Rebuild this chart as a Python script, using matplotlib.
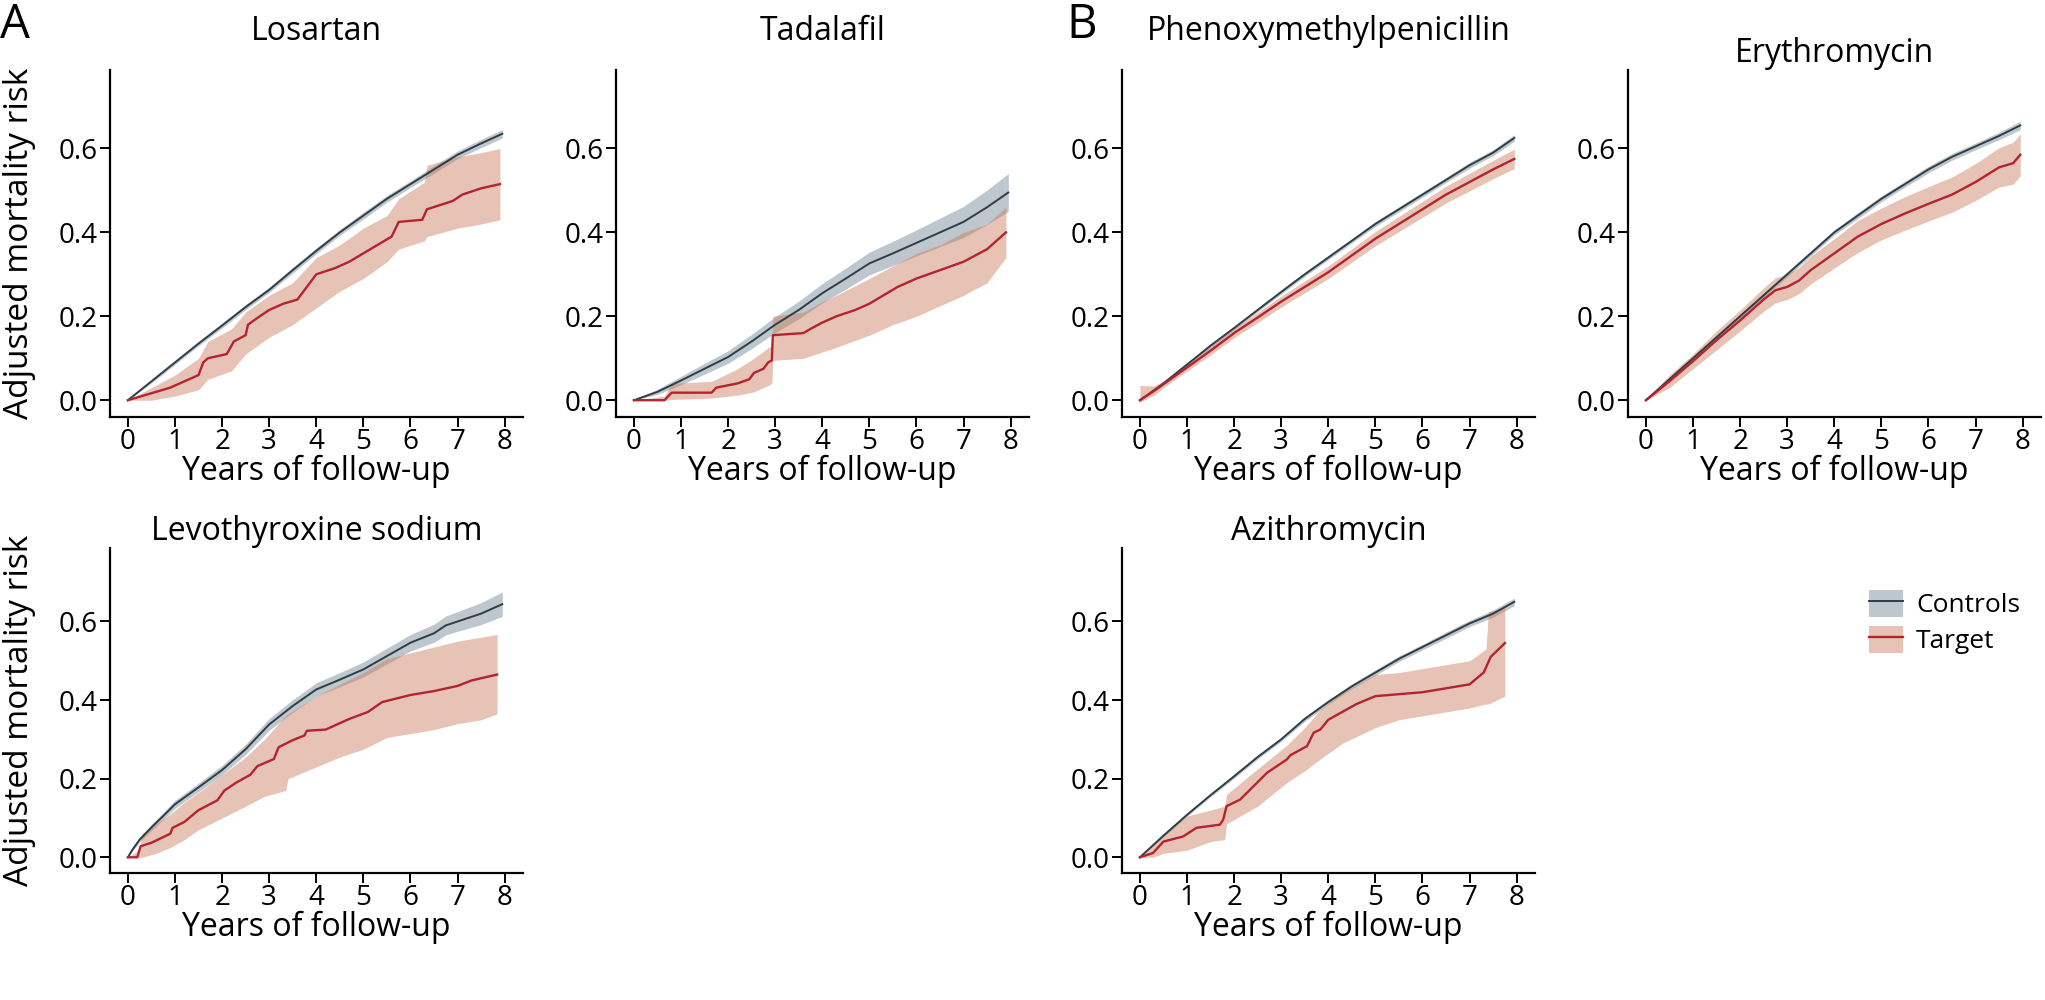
import numpy as np
import matplotlib
matplotlib.use("Agg")
import matplotlib.pyplot as plt
from matplotlib.patches import Patch
from matplotlib.lines import Line2D

plt.rcParams['font.family'] = ['Open Sans', 'DejaVu Sans']

# ---------------- data ----------------
titles = ["Losartan", "Tadalafil", "Phenoxymethylpenicillin", "Erythromycin",
          "Levothyroxine sodium", "Azithromycin"]

# controls: common time grid per panel
ctrl_t = [0, 0.5, 1, 1.5, 2, 2.5, 3, 3.5, 4, 4.5, 5, 5.5, 6, 6.5, 7, 7.5, 7.95]
losartan_ctrl = [0, 0.045, 0.09, 0.135, 0.178, 0.222, 0.263, 0.31, 0.356, 0.40, 0.44,
                 0.48, 0.515, 0.55, 0.585, 0.612, 0.635]
losartan_ctrl_hw = [0, 0.004, 0.005, 0.005, 0.006, 0.006, 0.006, 0.007, 0.007, 0.007,
                    0.008, 0.008, 0.008, 0.009, 0.009, 0.01, 0.01]
tadalafil_ctrl = [0, 0.02, 0.047, 0.075, 0.103, 0.14, 0.18, 0.215, 0.255, 0.29, 0.326,
                  0.35, 0.375, 0.40, 0.425, 0.46, 0.495]
tadalafil_ctrl_hw = [0, 0.006, 0.01, 0.013, 0.015, 0.017, 0.019, 0.021, 0.023, 0.025,
                     0.027, 0.029, 0.031, 0.034, 0.037, 0.041, 0.045]
phenoxy_ctrl = [0, 0.04, 0.085, 0.13, 0.172, 0.215, 0.258, 0.30, 0.34, 0.38, 0.42,
                0.455, 0.49, 0.525, 0.56, 0.59, 0.625]
phenoxy_ctrl_hw = [0, 0.003, 0.003, 0.004, 0.004, 0.004, 0.005, 0.005, 0.005, 0.005,
                   0.006, 0.006, 0.006, 0.006, 0.007, 0.007, 0.008]
ery_ctrl = [0, 0.05, 0.1, 0.15, 0.2, 0.25, 0.3, 0.35, 0.4, 0.44, 0.48, 0.515, 0.55,
            0.58, 0.605, 0.63, 0.655]
ery_ctrl_hw = [0, 0.003, 0.004, 0.005, 0.005, 0.005, 0.006, 0.006, 0.006, 0.007,
               0.007, 0.007, 0.008, 0.008, 0.008, 0.009, 0.01]
levo_ctrl_t = [0, 0.1, 0.25, 0.5, 0.75, 1, 1.5, 2, 2.5, 3, 3.5, 4, 4.5, 5, 5.5, 6,
               6.5, 6.75, 7, 7.5, 7.95]
levo_ctrl = [0, 0.02, 0.045, 0.076, 0.105, 0.135, 0.178, 0.222, 0.275, 0.338, 0.385,
             0.427, 0.452, 0.478, 0.512, 0.546, 0.57, 0.59, 0.6, 0.62, 0.644]
levo_ctrl_hw = [0, 0.004, 0.006, 0.008, 0.009, 0.01, 0.011, 0.012, 0.013, 0.015,
                0.016, 0.017, 0.018, 0.019, 0.02, 0.021, 0.023, 0.024, 0.025, 0.028, 0.031]
azi_ctrl = [0, 0.055, 0.108, 0.158, 0.206, 0.255, 0.3, 0.352, 0.395, 0.435, 0.47,
            0.505, 0.535, 0.565, 0.595, 0.62, 0.65]
azi_ctrl_hw = [0, 0.003, 0.004, 0.004, 0.005, 0.005, 0.005, 0.006, 0.006, 0.006,
               0.007, 0.007, 0.007, 0.008, 0.008, 0.009, 0.01]

# target curves
losartan_tgt_t = [0, 0.3, 0.6, 0.9, 1.2, 1.5, 1.6, 1.7, 2.1, 2.25, 2.5, 2.55, 2.8, 3.0,
                  3.3, 3.6, 3.8, 4.0, 4.4, 4.7, 5.0, 5.3, 5.6, 5.75, 6.25, 6.35, 6.9,
                  7.1, 7.5, 7.9]
losartan_tgt = [0, 0.01, 0.02, 0.03, 0.045, 0.06, 0.09, 0.1, 0.11, 0.14, 0.155, 0.18,
                0.2, 0.215, 0.23, 0.24, 0.27, 0.30, 0.315, 0.33, 0.35, 0.37, 0.39,
                0.425, 0.43, 0.455, 0.475, 0.49, 0.505, 0.515]
losartan_band_t = [0, 0.5, 1, 1.5, 1.7, 2.2, 2.5, 3, 3.5, 4, 4.5, 5, 5.5, 5.75, 6.3,
                   6.35, 7, 7.5, 7.9]
losartan_lo = [0, 0.0, 0.01, 0.025, 0.05, 0.07, 0.11, 0.15, 0.18, 0.22, 0.26, 0.29,
               0.33, 0.36, 0.38, 0.39, 0.41, 0.42, 0.43]
losartan_hi = [0, 0.03, 0.06, 0.1, 0.14, 0.17, 0.21, 0.25, 0.28, 0.34, 0.37, 0.41,
               0.44, 0.48, 0.52, 0.56, 0.58, 0.59, 0.60]

tadalafil_tgt_t = [0, 0.65, 0.8, 1.65, 1.75, 2.2, 2.45, 2.55, 2.75, 2.85, 2.93, 2.95,
                   3.6, 3.75, 4.0, 4.3, 4.7, 5.0, 5.3, 5.6, 6.0, 6.5, 7.0, 7.5, 7.9]
tadalafil_tgt = [0, 0, 0.018, 0.018, 0.03, 0.04, 0.05, 0.065, 0.075, 0.09, 0.095,
                 0.155, 0.16, 0.17, 0.185, 0.2, 0.215, 0.23, 0.25, 0.27, 0.29, 0.31,
                 0.33, 0.36, 0.40]
tadalafil_band_t = [0, 0.65, 0.8, 1.65, 2.2, 2.55, 2.85, 2.93, 2.95, 3.6, 4.0, 4.3, 5.0,
                    5.5, 6.0, 6.5, 7.0, 7.5, 7.9]
tadalafil_lo = [0, 0, 0.002, 0.005, 0.012, 0.02, 0.035, 0.04, 0.095, 0.1, 0.115, 0.126,
                0.155, 0.18, 0.2, 0.225, 0.25, 0.28, 0.34]
tadalafil_hi = [0, 0.01, 0.04, 0.045, 0.075, 0.1, 0.125, 0.13, 0.2, 0.21, 0.235, 0.25,
                0.29, 0.32, 0.35, 0.37, 0.40, 0.42, 0.46]

phenoxy_tgt_t = [0, 0.3, 0.5, 1, 1.5, 2, 2.5, 3, 3.5, 4, 4.5, 5, 5.5, 6, 6.5, 7, 7.5, 7.95]
phenoxy_tgt = [0, 0.022, 0.038, 0.078, 0.118, 0.16, 0.197, 0.235, 0.27, 0.305, 0.345,
               0.385, 0.42, 0.455, 0.49, 0.52, 0.55, 0.575]
phenoxy_lo = [-0.005, 0.012, 0.03, 0.069, 0.108, 0.149, 0.185, 0.222, 0.256, 0.29,
              0.329, 0.368, 0.402, 0.436, 0.47, 0.499, 0.528, 0.552]
phenoxy_hi = [0.035, 0.034, 0.046, 0.087, 0.128, 0.171, 0.209, 0.248, 0.284, 0.32,
              0.361, 0.402, 0.438, 0.474, 0.51, 0.541, 0.572, 0.598]

ery_tgt_t = [0, 0.5, 1, 1.5, 2, 2.5, 2.75, 3, 3.25, 3.5, 4, 4.5, 5, 5.5, 6, 6.5, 7,
             7.5, 7.8, 7.95]
ery_tgt = [0, 0.045, 0.093, 0.143, 0.19, 0.24, 0.262, 0.27, 0.285, 0.31, 0.35, 0.39,
           0.42, 0.445, 0.468, 0.49, 0.52, 0.555, 0.565, 0.585]
ery_lo = [0, 0.03, 0.075, 0.12, 0.165, 0.212, 0.232, 0.24, 0.254, 0.277, 0.315, 0.352,
          0.382, 0.405, 0.427, 0.448, 0.476, 0.508, 0.515, 0.535]
ery_hi = [0, 0.06, 0.11, 0.165, 0.215, 0.268, 0.292, 0.3, 0.316, 0.343, 0.385, 0.428,
          0.458, 0.485, 0.509, 0.532, 0.564, 0.602, 0.615, 0.635]

levo_tgt_t = [0, 0.2, 0.27, 0.5, 0.9, 0.95, 1.2, 1.5, 1.9, 2.05, 2.3, 2.6, 2.75, 3.1,
              3.2, 3.5, 3.75, 3.8, 4.2, 4.7, 5.1, 5.4, 6.0, 6.5, 7.0, 7.3, 7.84]
levo_tgt = [0, 0, 0.028, 0.037, 0.06, 0.075, 0.09, 0.12, 0.145, 0.17, 0.19, 0.21,
            0.232, 0.25, 0.28, 0.298, 0.31, 0.322, 0.325, 0.352, 0.37, 0.395, 0.413,
            0.423, 0.436, 0.45, 0.465]
levo_band_t = [0, 0.25, 0.3, 0.6, 0.9, 1.2, 1.5, 2, 2.5, 2.9, 3.35, 3.4, 4, 4.5, 5,
               5.5, 6, 6.5, 7, 7.5, 7.84]
levo_lo = [0, 0, 0.0, 0.01, 0.025, 0.045, 0.07, 0.1, 0.13, 0.155, 0.17, 0.2, 0.23,
           0.255, 0.275, 0.305, 0.315, 0.325, 0.34, 0.35, 0.365]
levo_hi = [0, 0.02, 0.06, 0.085, 0.11, 0.14, 0.165, 0.21, 0.255, 0.3, 0.36, 0.365,
           0.41, 0.44, 0.47, 0.505, 0.52, 0.535, 0.55, 0.56, 0.567]

azi_tgt_t = [0, 0.28, 0.5, 0.92, 1.2, 1.7, 1.77, 1.84, 2.13, 2.34, 2.7, 3.12, 3.2,
             3.55, 3.69, 3.83, 4.0, 4.3, 4.6, 5.0, 5.5, 6.0, 6.5, 7.0, 7.3, 7.45, 7.75]
azi_tgt = [0, 0.011, 0.04, 0.053, 0.075, 0.083, 0.096, 0.13, 0.147, 0.172, 0.215,
           0.249, 0.26, 0.283, 0.317, 0.325, 0.35, 0.37, 0.39, 0.41, 0.415, 0.42,
           0.43, 0.44, 0.47, 0.51, 0.545]
azi_band_t = [0, 0.28, 0.5, 1.0, 1.5, 1.8, 1.84, 2.5, 3.12, 3.5, 3.83, 4.3, 5, 5.5, 6,
              6.5, 7.0, 7.35, 7.4, 7.75]
azi_lo = [0, 0.0, 0.01, 0.018, 0.04, 0.045, 0.085, 0.13, 0.19, 0.22, 0.25, 0.29, 0.33,
          0.35, 0.36, 0.37, 0.38, 0.39, 0.39, 0.41]
azi_hi = [0, 0.03, 0.06, 0.105, 0.12, 0.13, 0.16, 0.225, 0.285, 0.33, 0.375, 0.42,
          0.465, 0.47, 0.48, 0.49, 0.5, 0.53, 0.625, 0.635]

panels = [
    (ctrl_t, losartan_ctrl, losartan_ctrl_hw, losartan_tgt_t, losartan_tgt,
     losartan_band_t, losartan_lo, losartan_hi),
    (ctrl_t, tadalafil_ctrl, tadalafil_ctrl_hw, tadalafil_tgt_t, tadalafil_tgt,
     tadalafil_band_t, tadalafil_lo, tadalafil_hi),
    (ctrl_t, phenoxy_ctrl, phenoxy_ctrl_hw, phenoxy_tgt_t, phenoxy_tgt,
     phenoxy_tgt_t, phenoxy_lo, phenoxy_hi),
    (ctrl_t, ery_ctrl, ery_ctrl_hw, ery_tgt_t, ery_tgt, ery_tgt_t, ery_lo, ery_hi),
    (levo_ctrl_t, levo_ctrl, levo_ctrl_hw, levo_tgt_t, levo_tgt, levo_band_t,
     levo_lo, levo_hi),
    (ctrl_t, azi_ctrl, azi_ctrl_hw, azi_tgt_t, azi_tgt, azi_band_t, azi_lo, azi_hi),
]

# ---------------- style ----------------
ctrl_line = '#2e3d47'
ctrl_fill = '#7f909c'
tgt_line = '#b5232f'
tgt_fill = '#c97b5a'

W, H = 2045, 1000
fig = plt.figure(figsize=(W / 100, H / 100), dpi=100)

# (column, row) grid slot of each panel; px geometry
slots = [(0, 0), (1, 0), (2, 0), (3, 0), (0, 1), (2, 1)]
col_left = [110, 616, 1122, 1628]
ax_w = 413
row_top = [70, 548]
row_bot = [417, 873]
title_pad = [21.5, 21.5, 21.5, 6, 6, 6]

for i, (slot, data) in enumerate(zip(slots, panels)):
    c, r = slot
    ct, cv, chw, tt, tv, bt, blo, bhi = data
    left = col_left[c] / W
    bottom = 1 - row_bot[r] / H
    height = (row_bot[r] - row_top[r]) / H
    ax = fig.add_axes([left, bottom, ax_w / W, height])

    cv = np.array(cv)
    chw = np.array(chw)
    ax.fill_between(ct, cv - chw, cv + chw, color=ctrl_fill, alpha=0.5, lw=0)
    ax.fill_between(bt, blo, bhi, color=tgt_fill, alpha=0.45, lw=0)
    ax.plot(ct, cv, color=ctrl_line, lw=1.4)
    ax.plot(tt, tv, color=tgt_line, lw=1.7)

    ax.set_xlim(-0.38, 8.39)
    ax.set_ylim(-0.04, 0.787)
    ax.set_xticks(range(0, 9))
    ax.set_yticks([0, 0.2, 0.4, 0.6])
    ax.set_yticklabels(["0.0", "0.2", "0.4", "0.6"])
    for s in ['top', 'right']:
        ax.spines[s].set_visible(False)
    for s in ['left', 'bottom']:
        ax.spines[s].set_linewidth(1.6)
    ax.tick_params(direction='out', length=7, width=1.4, labelsize=20)
    ax.tick_params(axis='x', pad=1)
    ax.tick_params(axis='y', pad=2)
    ax.set_xlabel("Years of follow-up", fontsize=23, labelpad=-1)
    ax.set_title(titles[i], fontsize=23, pad=title_pad[i])

    if c == 0:
        yc = 1 - (row_top[r] + row_bot[r]) / 2 / H
        fig.text(20 / W, yc, "Adjusted mortality risk", rotation=90, fontsize=24,
                 ha='center', va='center')

fig.text(0, 1 - 2 / H, "A", fontsize=34, ha='left', va='top')
fig.text(1066 / W, 1 - 2 / H, "B", fontsize=34, ha='left', va='top')

handles = [
    (Patch(facecolor=ctrl_fill, alpha=0.5, lw=0), Line2D([], [], color=ctrl_line, lw=1.4)),
    (Patch(facecolor=tgt_fill, alpha=0.45, lw=0), Line2D([], [], color=tgt_line, lw=1.7)),
]
fig.legend(handles, ["Controls", "Target"], loc='center left',
           bbox_to_anchor=(1845 / W, 1 - 622 / H), frameon=False, fontsize=19,
           handlelength=1.3, handleheight=1.2, handletextpad=0.5, labelspacing=0.3)

fig.savefig("out.png", dpi=100)
